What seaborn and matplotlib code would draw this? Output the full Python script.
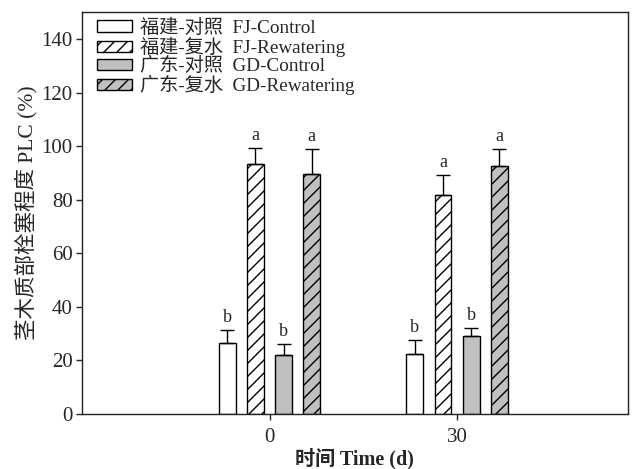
import matplotlib
matplotlib.use("Agg")
import matplotlib.pyplot as plt
import seaborn as sns
import pandas as pd
import numpy as np

# Sampling times (days) and treatment groups
times = ["0", "30"]
groups = ["福建-对照  FJ-Control", "福建-复水  FJ-Rewatering",
          "广东-对照  GD-Control", "广东-复水  GD-Rewatering"]

# Mean PLC (%) per group at each time, and standard errors
fj_control = [26.5, 22.5]
fj_rewater = [93.5, 81.7]
gd_control = [22.2, 29.0]
gd_rewater = [89.5, 92.5]

fj_control_err = [4.7, 5.3]
fj_rewater_err = [5.8, 7.4]
gd_control_err = [3.8, 3.0]
gd_rewater_err = [9.6, 6.5]

# Significance letters
letters = [["b", "b"], ["a", "a"], ["b", "b"], ["a", "a"]]

means = [fj_control, fj_rewater, gd_control, gd_rewater]
errs = [fj_control_err, fj_rewater_err, gd_control_err, gd_rewater_err]

rows = []
for g, vals in zip(groups, means):
    for t, v in zip(times, vals):
        rows.append({"time": t, "group": g, "plc": v})
df = pd.DataFrame(rows)

# A lower dpi sets the hatch spacing; sizes below are scaled back by k
DPI = 78
k = 100 / DPI

sns.set_style("ticks")
plt.rcParams["font.family"] = ["Liberation Serif", "Noto Sans CJK SC"]
plt.rcParams["hatch.linewidth"] = 1.0 * k

fig = plt.figure(figsize=(638 / DPI, 469 / DPI), dpi=DPI)
ax = fig.add_axes([0.1285, 0.1173, 0.8555, 0.8567])

fills = ["white", "white", "#c0c0c0", "#c0c0c0"]
hatches = ["", "//", "", "//"]

sns.barplot(data=df, x="time", y="plc", hue="group", hue_order=groups,
            order=times, palette=fills, width=0.6, gap=0.4,
            edgecolor="black", linewidth=1.0 * k, legend=False, ax=ax,
            errorbar=None)

for cont, hatch, err, lets in zip(ax.containers, hatches, errs, letters):
    xs, ys = [], []
    for bar in cont:
        bar.set_hatch(hatch)
        bar.set_edgecolor("black")
        xs.append(bar.get_x() + bar.get_width() / 2)
        ys.append(bar.get_height())
    ax.errorbar(xs, ys, yerr=[np.zeros(len(err)), err], fmt="none",
                ecolor="black", elinewidth=1.0 * k, capsize=4.7 * k,
                capthick=1.0 * k, zorder=3)
    for x, y, e, l in zip(xs, ys, err, lets):
        ax.text(x, y + e + 1.5, l, ha="center", va="bottom", fontsize=13 * k)

ax.legend(handles=list(ax.containers), labels=groups, loc="upper left",
          bbox_to_anchor=(0.02, 0.993), frameon=False, fontsize=13.8 * k,
          handlelength=1.85, handleheight=0.55, handletextpad=0.4,
          labelspacing=0.0, borderaxespad=0.0, borderpad=0.2)

ax.set_ylim(0, 150)
ax.set_xlim(-1.0, 1.91)
ax.set_yticks(range(0, 141, 20))
ax.set_xlabel("时间 Time (d)", fontsize=14.5 * k, fontweight="bold", labelpad=1)
ax.set_ylabel("茎木质部栓塞程度 PLC (%)", fontsize=15.5 * k, labelpad=4)
ax.tick_params(axis="both", labelsize=15 * k, direction="out", length=4 * k,
               width=1 * k)
ax.tick_params(axis="x", pad=8)
for s in ax.spines.values():
    s.set_visible(True)
    s.set_linewidth(1.0 * k)
    s.set_color("#222222")

fig.savefig("out.png", dpi=DPI)
